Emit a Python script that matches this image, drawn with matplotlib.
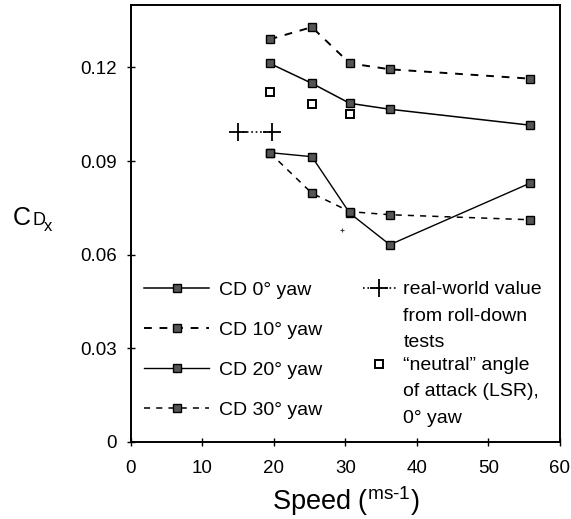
import matplotlib
matplotlib.use("Agg")
import matplotlib.pyplot as plt

plt.rcParams['font.family'] = ['Liberation Sans', 'DejaVu Sans']
plt.rcParams['mathtext.fontset'] = 'custom'
plt.rcParams['mathtext.rm'] = 'Liberation Sans'
plt.rcParams['mathtext.it'] = 'Liberation Sans'

# données
speed = [19.4, 25.3, 30.6, 36.2, 55.8]
cd_0 = [0.1213, 0.1149, 0.1085, 0.1066, 0.1015]
cd_10 = [0.1290, 0.1329, 0.1213, 0.1194, 0.1164]
cd_20 = [0.0927, 0.0914, 0.0733, 0.0632, 0.0829]
cd_30 = [0.0927, 0.0797, 0.0738, 0.0728, 0.0712]

neutral_speed = [19.4, 25.3, 30.6]
neutral_cd = [0.1121, 0.1082, 0.1052]

road_speed = [15.0, 19.7]
road_cd = [0.0994, 0.0994]

stray_speed = [29.5]
stray_cd = [0.068]

xticks = [0, 10, 20, 30, 40, 50, 60]
yticks = [0, 0.03, 0.06, 0.09, 0.12]
ytick_labels = ['0', '0.03', '0.06', '0.09', '0.12']

fig = plt.figure(figsize=(5.71, 5.19), dpi=100)
ax = fig.add_axes([0.2294, 0.1484, 0.7513, 0.842])

sq = dict(marker='s', markersize=6, markerfacecolor='#555555',
          markeredgecolor='black', markeredgewidth=1.0, color='black')

l0, = ax.plot(speed, cd_0, linestyle='-', linewidth=1.1, label='CD 0° yaw', **sq)
l10, = ax.plot(speed, cd_10, linestyle=(0, (4, 4)), linewidth=1.4, label='CD 10° yaw', **sq)
l20, = ax.plot(speed, cd_20, linestyle='-', linewidth=1.0, label='CD 20° yaw', **sq)
l30, = ax.plot(speed, cd_30, linestyle=(0, (4, 4)), linewidth=1.1, label='CD 30° yaw', **sq)

lr, = ax.plot(road_speed, road_cd, linestyle=':', linewidth=1.2, color='black',
              marker='+', markersize=13, markeredgewidth=1.3,
              label='real-world value\nfrom roll-down\ntests')
ln, = ax.plot(neutral_speed, neutral_cd, linestyle='none', marker='s', markersize=5.5,
              markerfacecolor='white', markeredgecolor='black', markeredgewidth=1.4,
              label='\u201cneutral\u201d angle\nof attack (LSR),\n0° yaw')
ax.plot(stray_speed, stray_cd, linestyle='none', marker='+', markersize=3,
        color='#444444', markeredgewidth=0.8)

ax.set_xlim(0, 60)
ax.set_ylim(0, 0.14)
ax.set_xticks(xticks)
ax.set_yticks(yticks)
ax.set_yticklabels(ytick_labels)
ax.tick_params(direction='inout', length=6, width=1, labelsize=13.5, pad=7)
ax.tick_params(axis='x', pad=10)
for s in ax.spines.values():
    s.set_linewidth(1.4)

ax.set_xlabel(r'Speed ($^{\mathregular{ms\text{-}1}}$)', fontsize=19.5, labelpad=5)

# étiquette Y : C, D plus petit, x en indice
ax.text(-0.275, 0.497, 'C', transform=ax.transAxes, fontsize=18, ha='left', va='baseline')
ax.text(-0.23, 0.497, 'D', transform=ax.transAxes, fontsize=13, ha='left', va='baseline')
ax.text(-0.203, 0.483, 'x', transform=ax.transAxes, fontsize=12, ha='left', va='baseline')

leg1 = ax.legend(handles=[l0, l10, l20, l30], loc='upper left',
                 bbox_to_anchor=(0.031, 0.368), frameon=False, fontsize=14,
                 handlelength=3.35, handletextpad=0.5, labelspacing=1.16,
                 borderpad=0, borderaxespad=0)
ax.add_artist(leg1)

leg2 = ax.legend(handles=[lr, ln], loc='upper left',
                 bbox_to_anchor=(0.54, 0.368), frameon=False, fontsize=14,
                 handlelength=1.7, handletextpad=0.4, labelspacing=0.32,
                 borderpad=0, borderaxespad=0, numpoints=1)
for t in leg2.get_texts():
    t.set_linespacing(1.72)
# aligner les symboles sur la première ligne du texte
for col in leg2._legend_handle_box.get_children():
    for item in col.get_children():
        item.align = 'top'

fig.savefig('out.png', dpi=100)
